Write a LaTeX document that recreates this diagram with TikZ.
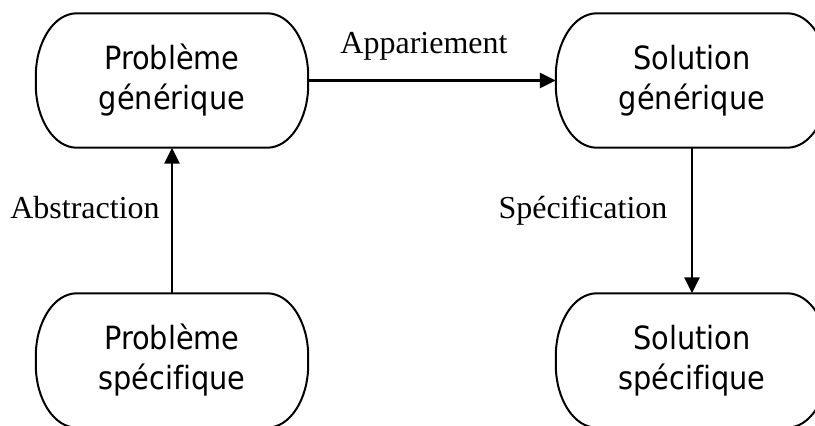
\documentclass[tikz,border=0pt]{standalone}
\usepackage{fontspec}
\setmainfont[Ligatures=CommonOff]{Liberation Serif}
\newfontfamily\boxfont[Ligatures=CommonOff]{DejaVu Sans Condensed}
\usetikzlibrary{arrows.meta}
\newcommand\stadium[1]{%
  \draw[boxline] ([xshift=41pt]#1.north west) -- ([xshift=-41pt]#1.north east)
    arc[start angle=90,end angle=0,x radius=41pt,y radius=63pt]
    -- ([yshift=63pt]#1.south east)
    arc[start angle=0,end angle=-90,x radius=41pt,y radius=63pt]
    -- ([xshift=41pt]#1.south west)
    arc[start angle=270,end angle=180,x radius=41pt,y radius=63pt]
    -- ([yshift=-63pt]#1.north west)
    arc[start angle=180,end angle=90,x radius=41pt,y radius=63pt] -- cycle;}
\begin{document}
\begin{tikzpicture}[x=1pt,y=-1pt,
  box/.style={minimum width=272pt, minimum height=134pt, inner sep=0pt, align=center, font=\boxfont\fontsize{32}{40}\selectfont},
  boxline/.style={line width=2pt},
  conn/.style={line width=2.6pt, -{Triangle[length=16pt,width=15pt]}},
  lbl/.style={font=\fontsize{32}{38}\selectfont, inner sep=0pt, anchor=base}]
\useasboundingbox (0,0) rectangle (815,426);
\node[box] (pg) at (172,80.5) {Problème\\générique};
\node[box] (sg) at (692,80.5) {Solution\\générique};
\node[box] (ps) at (172,360.5) {Problème\\spécifique};
\node[box] (ss) at (692,360.5) {Solution\\spécifique};
\stadium{pg}
\stadium{sg}
\stadium{ps}
\stadium{ss}
\draw[conn] (pg.east) -- (sg.west);
\draw[conn] (ps.north) -- (pg.south);
\draw[conn] (sg.south) -- (ss.north);
\node[lbl] (la) at (424,53) {Appariement};
\node[lbl] (lb) at (85,218) {Abstraction};
\node[lbl] (lc) at (583,218) {Spécification};
\end{tikzpicture}
\end{document}
